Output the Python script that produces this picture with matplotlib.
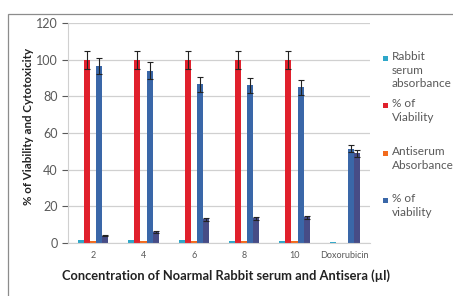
import matplotlib
matplotlib.use("Agg")
import matplotlib.pyplot as plt
import matplotlib.patches as mpatches
import numpy as np

plt.rcParams["font.family"] = ["Lato", "DejaVu Sans"]

categories = ["2", "4", "6", "8", "10", "Doxorubicin"]
rabbit_serum_abs = [1.5, 1.5, 1.5, 1.2, 1.2, 0.6]
viability_pct = [100, 100, 100, 100, 100, np.nan]
viability_err = [5, 5, 5, 5, 5, np.nan]
antiserum_abs = [1.3, 1.3, 1.2, 1.2, 1.0, np.nan]
viability2_pct = [96.5, 94, 86.5, 86, 85, 51.5]
viability2_err = [4.5, 4.5, 4, 4, 4, 2]
cytotox_pct = [4, 6, 13, 13.5, 14, 49]
cytotox_err = [0.4, 0.5, 0.8, 0.8, 1.0, 2]

legend_labels = ["Rabbit\nserum\nabsorbance", "% of\nViability",
                 "Antiserum\nAbsorbance", "% of\nviability"]

COLORS = ["#2ea7c9", "#e0202c", "#f26b1d", "#3a67a8", "#474c86"]
GRID = "#d0d0d0"
TEXT = "#595959"

fig = plt.figure(figsize=(4.53, 2.96), dpi=100)
ax = fig.add_axes([68 / 453, 1 - 243 / 296, (370 - 68) / 453, (243 - 23) / 296])

x = np.arange(len(categories))
w = 0.12
series = [
    (rabbit_serum_abs, None),
    (viability_pct, viability_err),
    (antiserum_abs, None),
    (viability2_pct, viability2_err),
    (cytotox_pct, cytotox_err),
]
for i, (vals, err) in enumerate(series):
    pos = x + (i - 2) * w
    ax.bar(pos, vals, w, color=COLORS[i], zorder=2)
    if err is not None:
        ax.errorbar(pos, vals, yerr=err, fmt="none", ecolor="#222222",
                    elinewidth=0.8, capsize=2, capthick=0.8, zorder=3)

ax.set_xlim(-0.5, len(categories) - 0.5)
ax.set_ylim(0, 120)
ax.set_yticks(range(0, 121, 20))
ax.set_xticks(x)
ax.set_xticklabels(categories)
ax.tick_params(axis="y", labelsize=9, colors=TEXT, length=4, width=0.8)
ax.tick_params(axis="x", labelsize=6.5, colors=TEXT, length=0, pad=6)
ax.yaxis.grid(True, color=GRID, linewidth=0.9, zorder=0)
ax.set_axisbelow(True)
for s in ["top", "right"]:
    ax.spines[s].set_visible(False)
ax.spines["left"].set_color(GRID)
ax.spines["bottom"].set_color(GRID)

ax.set_ylabel("% of Viability and Cytotoxicity", fontsize=8.3, fontweight="bold",
              color="#222222")
ax.yaxis.set_label_coords(-0.113, 0.53)
ax.set_xlabel("Concentration of Noarmal Rabbit serum and Antisera (\u00b5l)",
              fontsize=9.3, fontweight="bold", color="#222222")
ax.xaxis.set_label_coords(0.523, -0.12)

# legend placed by hand, like the Excel layout
entry_y = [58, 105, 153, 200]
for lbl, col, yy in zip(legend_labels, COLORS[:4], entry_y):
    fig.patches.append(mpatches.Rectangle(
        (383 / 453, 1 - (yy + 3) / 296), 5 / 453, 5 / 296,
        facecolor=col, edgecolor="none", transform=fig.transFigure))
    fig.text(392 / 453, 1 - (yy - 7) / 296, lbl, fontsize=8.5, color=TEXT,
             va="top", ha="left", linespacing=1.3)

# outer chart border
fig.patches.append(mpatches.Rectangle(
    (8 / 453, -0.05), 1.2, 1 - 14 / 296 + 0.05, fill=False,
    edgecolor="#8c8c8c", linewidth=0.9, transform=fig.transFigure))

fig.savefig("out.png", dpi=100)
